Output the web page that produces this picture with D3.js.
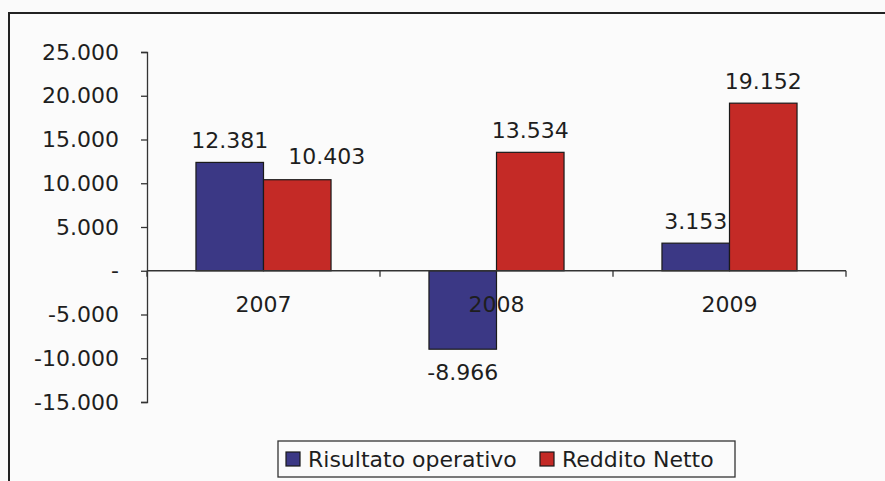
<!DOCTYPE html>
<html>
<head>
<meta charset="utf-8">
<script src="https://cdn.jsdelivr.net/npm/d3@7"></script>
<style>
  html, body { margin: 0; padding: 0; background: #fafafa; }
  svg { display: block; }
  text { font-family: "DejaVu Sans", Verdana, sans-serif; fill: #1e1e1e; }
</style>
</head>
<body>
<svg id="chart" width="885" height="481"></svg>
<script>
const categories = ["2007", "2008", "2009"];
const seriesNames = ["Risultato operativo", "Reddito Netto"];
const risultatoOperativo = [12381, -8966, 3153];
const redditoNetto = [10403, 13534, 19152];
const yTicks = [-15000, -10000, -5000, 0, 5000, 10000, 15000, 20000, 25000];
const colors = ["#3b3885", "#c42a26"];

const svg = d3.select("#chart");
const fmt = v => v === 0 ? "-" : d3.format(",")(v).replace(/,/g, ".").replace(/\u2212/g, "-");

// outer frame
svg.append("rect").attr("x", 9).attr("y", 13).attr("width", 900).attr("height", 500)
  .attr("fill", "#fbfbfb").attr("stroke", "#222").attr("stroke-width", 2);

const plot = { left: 147, right: 846, top: 52, bottom: 402 };
const y = d3.scaleLinear().domain([-15000, 25000]).range([plot.bottom, plot.top]);
const x = d3.scaleBand().domain(categories).range([plot.left, plot.right]).paddingInner(0).paddingOuter(0);
const xs = d3.scaleBand().domain(seriesNames).range([0, x.bandwidth()]).paddingInner(0).paddingOuter(0.725);

const fontSize = 22;

// y axis
const yAxis = d3.axisLeft(y).tickValues(yTicks).tickSize(6).tickPadding(22).tickFormat(fmt);
const gy = svg.append("g").attr("transform", `translate(${plot.left},0)`).call(yAxis);
gy.select(".domain").attr("stroke", "#333").attr("stroke-width", 1.3);
gy.selectAll(".tick line").attr("stroke", "#333").attr("stroke-width", 1.3);
gy.selectAll(".tick text").attr("font-size", fontSize).attr("fill", "#1e1e1e")
  .attr("font-family", "DejaVu Sans, Verdana, sans-serif");

// bars
const data = categories.map((c, i) => ({ cat: c, vals: [risultatoOperativo[i], redditoNetto[i]] }));
const groups = svg.append("g").selectAll("g").data(data).join("g")
  .attr("transform", d => `translate(${x(d.cat)},0)`);
groups.selectAll("rect").data(d => d.vals.map((v, j) => ({ v, s: seriesNames[j], j })))
  .join("rect")
  .attr("x", d => xs(d.s))
  .attr("width", xs.bandwidth())
  .attr("y", d => y(Math.max(0, d.v)))
  .attr("height", d => Math.abs(y(d.v) - y(0)))
  .attr("fill", d => colors[d.j])
  .attr("stroke", "#1a1a1a").attr("stroke-width", 1.2);

// value labels (with simple collision avoidance: shift the second label right)
groups.each(function () {
  const g = d3.select(this);
  const labels = g.selectAll("text.val").data(d => d.vals.map((v, j) => ({ v, s: seriesNames[j], j })))
    .join("text").attr("class", "val")
    .attr("x", d => xs(d.s) + xs.bandwidth() / 2)
    .attr("y", d => d.v >= 0 ? y(d.v) - 14 : y(d.v) + 31)
    .attr("text-anchor", "middle").attr("font-size", fontSize)
    .text(d => fmt(d.v));
  const nodes = labels.nodes();
  for (let k = 1; k < nodes.length; k++) {
    const a = nodes[k - 1].getBBox(), b = nodes[k].getBBox();
    const overlapY = a.y < b.y + b.height && b.y < a.y + a.height;
    if (overlapY && b.x < a.x + a.width + 20) {
      const shift = a.x + a.width + 20 - b.x;
      d3.select(nodes[k]).attr("x", +d3.select(nodes[k]).attr("x") + shift)
        .attr("y", +d3.select(nodes[k]).attr("y") - 2);
    }
  }
});

// x axis at zero
const xAxisG = svg.append("g").attr("transform", `translate(0,${y(0)})`);
xAxisG.append("line").attr("x1", plot.left).attr("x2", plot.right).attr("y1", 0).attr("y2", 0)
  .attr("stroke", "#333").attr("stroke-width", 1.3);
const boundaries = categories.map(c => x(c)).concat([x(categories[categories.length - 1]) + x.bandwidth()]);
xAxisG.selectAll("line.tk").data(boundaries).join("line").attr("class", "tk")
  .attr("x1", d => d).attr("x2", d => d).attr("y1", 0).attr("y2", 6)
  .attr("stroke", "#333").attr("stroke-width", 1.3);
xAxisG.selectAll("text.cat").data(categories).join("text").attr("class", "cat")
  .attr("x", d => x(d) + x.bandwidth() / 2).attr("y", 41)
  .attr("text-anchor", "middle").attr("font-size", fontSize).text(d => d);

// legend
const lg = svg.append("g").attr("transform", "translate(278,441)");
lg.append("rect").attr("width", 457).attr("height", 36).attr("fill", "#fbfbfb")
  .attr("stroke", "#333").attr("stroke-width", 1.3);
const legendItems = [
  { name: seriesNames[0], color: colors[0], x: 8 },
  { name: seriesNames[1], color: colors[1], x: 262 }
];
const li = lg.selectAll("g.item").data(legendItems).join("g").attr("class", "item")
  .attr("transform", d => `translate(${d.x},0)`);
li.append("rect").attr("x", 0).attr("y", 11).attr("width", 14).attr("height", 14)
  .attr("fill", d => d.color).attr("stroke", "#1a1a1a").attr("stroke-width", 1.2);
li.append("text").attr("x", 22).attr("y", 26).attr("font-size", fontSize).text(d => d.name);
</script>
</body>
</html>
